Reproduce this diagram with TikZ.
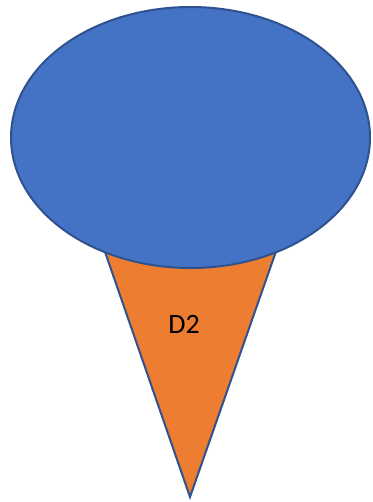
\documentclass[tikz,border=0pt]{standalone}
\usepackage{fontspec}
\setmainfont{Carlito}
\definecolor{fillblue}{HTML}{4472C4}
\definecolor{edgeblue}{HTML}{2F528F}
\definecolor{fillorange}{HTML}{ED7D31}
\begin{document}
\begin{tikzpicture}[x=1pt,y=-1pt,
  shapeedge/.style={draw=edgeblue,line width=2pt,line join=miter}]
\useasboundingbox (0,0) rectangle (372,502);
\coordinate (apex) at (190,497);
\coordinate (tl) at (87,200);
\coordinate (tr) at (294,200);
\draw[shapeedge,fill=fillorange] (tl) -- (apex) -- (tr) -- cycle;
\draw[shapeedge,fill=fillblue] (190.5,137.5) ellipse [x radius=179.5,y radius=130.5];
\node[font=\fontsize{28}{32}\selectfont,inner sep=0pt] (label) at (184,324) {D2};
\end{tikzpicture}
\end{document}
